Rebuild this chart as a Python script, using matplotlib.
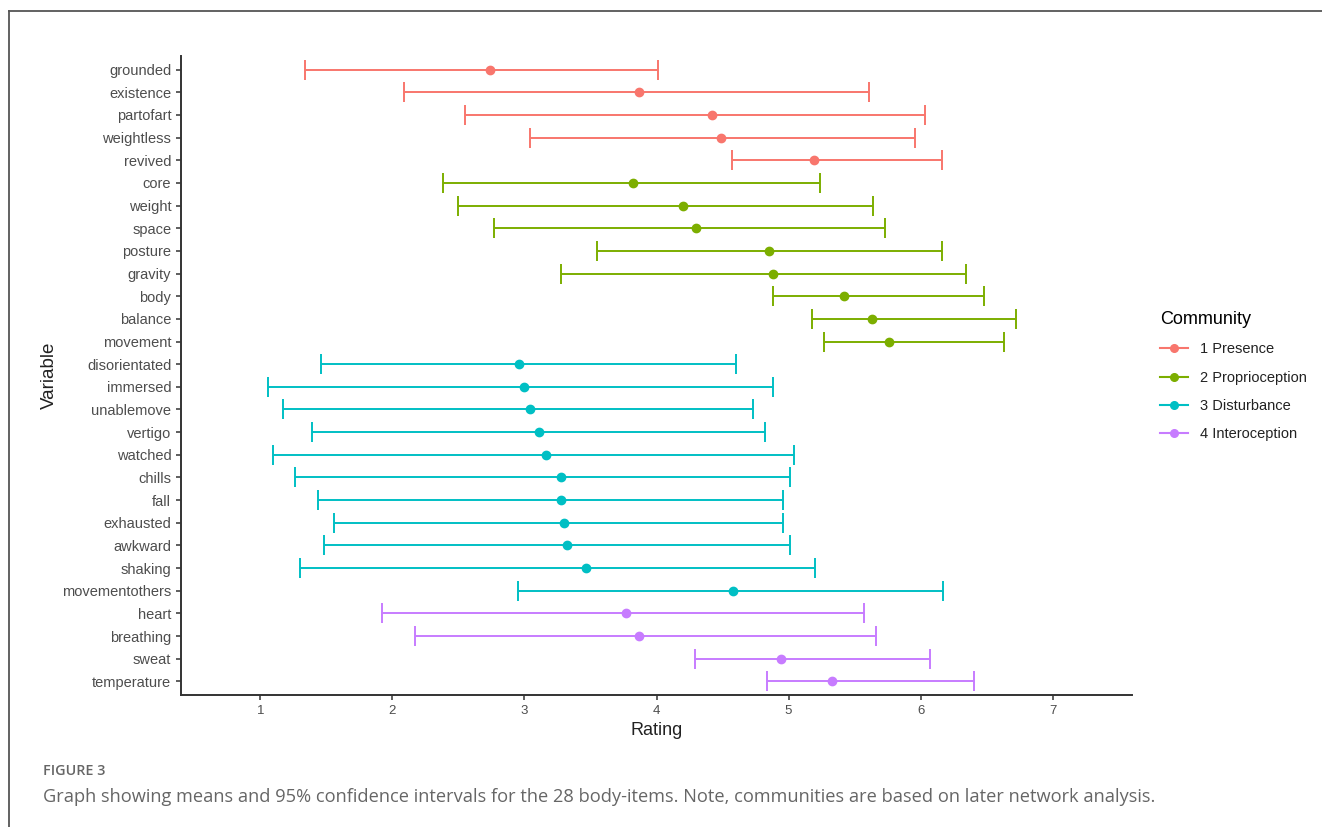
import matplotlib
matplotlib.use("Agg")
import matplotlib.pyplot as plt
from matplotlib.lines import Line2D
import numpy as np

# items top to bottom, with community, mean and 95% CI
items = ["grounded", "existence", "partofart", "weightless", "revived",
         "core", "weight", "space", "posture", "gravity", "body", "balance", "movement",
         "disorientated", "immersed", "unablemove", "vertigo", "watched", "chills", "fall",
         "exhausted", "awkward", "shaking", "movementothers",
         "heart", "breathing", "sweat", "temperature"]
community = [1] * 5 + [2] * 8 + [3] * 11 + [4] * 4
means = [2.74, 3.87, 4.42, 4.49, 5.19,
         3.82, 4.20, 4.30, 4.85, 4.88, 5.42, 5.63, 5.76,
         2.96, 3.00, 3.04, 3.11, 3.16, 3.28, 3.28, 3.30, 3.32, 3.47, 4.58,
         3.77, 3.87, 4.94, 5.33]
lower = [1.34, 2.09, 2.55, 3.04, 4.57,
         2.38, 2.50, 2.77, 3.55, 3.28, 4.88, 5.18, 5.27,
         1.46, 1.06, 1.17, 1.39, 1.10, 1.26, 1.44, 1.56, 1.48, 1.30, 2.95,
         1.92, 2.17, 4.29, 4.84]
upper = [4.01, 5.61, 6.03, 5.96, 6.16,
         5.24, 5.64, 5.73, 6.16, 6.34, 6.48, 6.72, 6.63,
         4.60, 4.88, 4.73, 4.82, 5.04, 5.01, 4.96, 4.96, 5.01, 5.20, 6.17,
         5.57, 5.66, 6.07, 6.40]
comm_names = ["1 Presence", "2 Proprioception", "3 Disturbance", "4 Interoception"]
comm_colors = ["#F8766D", "#7CAE00", "#00BFC4", "#C77CFF"]

plt.rcParams['font.family'] = ['Liberation Sans', 'DejaVu Sans']

fig = plt.figure(figsize=(13.22, 8.27), dpi=100)
ax = fig.add_axes([181 / 1322, 1 - 695 / 827, (1132 - 181) / 1322, (695 - 56) / 827])

y = np.arange(len(items))
for i in range(len(items)):
    col = comm_colors[community[i] - 1]
    ax.errorbar(means[i], y[i], xerr=[[means[i] - lower[i]], [upper[i] - means[i]]],
                fmt='o', color=col, ms=6, elinewidth=1.4, capsize=7, capthick=1.4,
                ecolor=col)

ax.set_xlim(0.40, 7.60)
ax.set_ylim(len(items) - 0.4, -0.6)
ax.set_yticks(y)
ax.set_yticklabels(items)
ax.set_xticks(range(1, 8))
ax.tick_params(axis='both', colors='#333333', labelcolor='#4D4D4D', labelsize=10.5,
               length=3.5, width=1.1)
ax.tick_params(axis='x', labelsize=9.5)
for s in ['top', 'right']:
    ax.spines[s].set_visible(False)
for s in ['left', 'bottom']:
    ax.spines[s].set_color('#333333')
    ax.spines[s].set_linewidth(1.4)
ax.set_xlabel('Rating', fontsize=13, color='#222222', labelpad=4)
ax.set_ylabel('Variable', fontsize=13.5, color='#222222', labelpad=3)

handles = [Line2D([0], [0], color=c, marker='o', ms=5.5, lw=1.5) for c in comm_colors]
leg = fig.legend(handles, comm_names, loc='upper left', bbox_to_anchor=(1147 / 1322, 1 - 298 / 827),
                 frameon=False, title='Community', fontsize=10.5, title_fontsize=13,
                 handlelength=1.9, labelspacing=0.98, alignment='left')
for t in leg.get_texts():
    t.set_color('#222222')

# figure frame (top and left only)
fig.add_artist(Line2D([9 / 1322, 9 / 1322], [0, 1 - 11 / 827], color='#555555', lw=1.3,
                      transform=fig.transFigure))
fig.add_artist(Line2D([9 / 1322, 1], [1 - 11 / 827, 1 - 11 / 827], color='#555555', lw=1.3,
                      transform=fig.transFigure))

fig.text(43 / 1322, 1 - 771 / 827, 'FIGURE 3', fontsize=10.4, color='#666666', fontweight='semibold',
         family='Open Sans', va='center')
fig.text(43 / 1322, 1 - 797 / 827,
         'Graph showing means and 95% confidence intervals for the 28 body-items. '
         'Note, communities are based on later network analysis.',
         fontsize=13.15, color='#666666', family='Open Sans', va='center')

fig.savefig('out.png', dpi=100)
